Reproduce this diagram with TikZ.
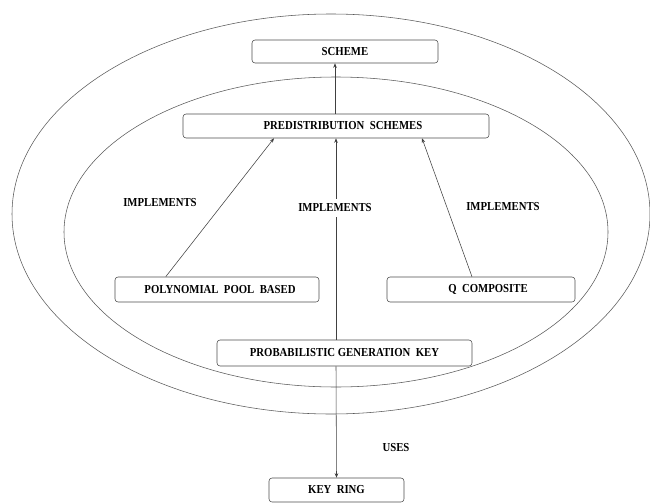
\documentclass[tikz,border=0pt]{standalone}
\usepackage{fontspec}
\setmainfont{Liberation Serif}[FakeStretch=0.88]
\usetikzlibrary{arrows.meta}

\begin{document}
\begin{tikzpicture}[x=1pt,y=-1pt,line width=0.55pt,
        box/.style={draw=black!70,rounded corners=3pt,minimum height=24pt,inner sep=0pt,font=\fontsize{12.2}{14}\selectfont\bfseries},
        lbl/.style={font=\fontsize{12.2}{14}\selectfont\bfseries},
        arr/.style={draw=black!75,-{Stealth[length=4.5pt,width=3.5pt]}}]
        \useasboundingbox (0,0) rectangle (650,503);

        % the two rings
        \draw[black!65] (331,214) ellipse [x radius=319,y radius=200];
        \draw[black!65] (336,232) ellipse [x radius=272,y radius=155];

        \node[box,minimum width=186pt,minimum height=23pt] (scheme) at (345,51.5) {SCHEME\hspace{20pt}};
        \node[box,minimum width=306pt] (ps) at (336,126) {\hspace{14pt}PREDISTRIBUTION\ \ SCHEMES};
        \node[box,minimum width=204pt,minimum height=25pt] (ppb) at (217,289.5) {\hspace{6pt}POLYNOMIAL\ \ POOL\ \ BASED};
        \node[box,minimum width=188pt,minimum height=25pt] (qc) at (481,289.5) {\hspace{14pt}Q\ \ COMPOSITE};
        \node[box,minimum width=255pt,minimum height=26pt] (pgk) at (344.5,353) {PROBABILISTIC GENERATION\ \ KEY\hspace{16pt}};
        \node[box,minimum width=135pt] (keyring) at (336.5,490) {KEY\ \ RING};

        \draw[arr] (ps.north -| 335,0) -- (scheme.south -| 335,0);
        \draw[arr] ([xshift=51pt]ppb.north west) -- ([xshift=-62pt]ps.south);
        \draw[arr] ([xshift=-9pt]qc.north) -- ([xshift=86pt]ps.south);
        \draw[arr] (ps.south |- pgk.north) -- (ps.south);
        \draw[arr] (ps.south |- pgk.south) -- (keyring.north);

        \node[lbl] (impl1) at (160,203) {IMPLEMENTS};
        \node[lbl,fill=white,inner sep=5pt] (impl2) at (335,208) {IMPLEMENTS};
        \node[lbl] (impl3) at (503,207) {IMPLEMENTS};
        \node[lbl] (uses) at (396,448) {USES};
\end{tikzpicture}
\end{document}
